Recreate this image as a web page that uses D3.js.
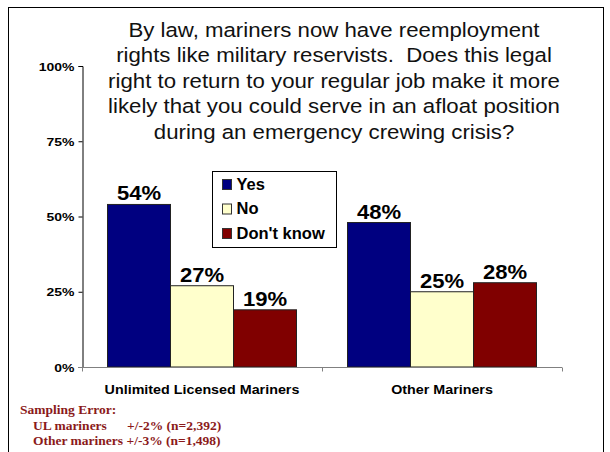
<!DOCTYPE html>
<html>
<head>
<meta charset="utf-8">
<script src="https://cdn.jsdelivr.net/npm/d3@7"></script>
<style>
  body { margin: 0; background: #fff; }
  svg { display: block; }
</style>
</head>
<body>
<div id="chart"></div>
<script>
// chart data
const groups = ["Unlimited Licensed Mariners", "Other Mariners"];
const answers = ["Yes", "No", "Don't know"];
const yesValues = [54, 48];
const noValues = [27, 25];
const dontKnowValues = [19, 28];
const yTicks = [0, 25, 50, 75, 100];
const titleLines = [
  "By law, mariners now have reemployment",
  "rights like military reservists.  Does this legal",
  "right to return to your regular job make it more",
  "likely that you could serve in an afloat position",
  "during an emergency crewing crisis?"
];
const samplingTitle = "Sampling Error:";
const samplingRows = [
  ["UL mariners", "+/-2% (n=2,392)"],
  ["Other mariners +/-3% (n=1,498)", ""]
];

const series = [yesValues, noValues, dontKnowValues];
const colors = ["#000080", "#FFFFCC", "#800000"];
const sans = "Arial, 'Liberation Sans', sans-serif";

const width = 610, height = 452;
const svg = d3.select("#chart").append("svg")
  .attr("width", width)
  .attr("height", height);

// text that is a bit wider than the font gives (the reference is stretched sideways)
function wideText(parent, x, y, sx, txt) {
  return parent.append("text")
    .attr("transform", `translate(${x},${y}) scale(${sx},1)`)
    .style("white-space", "pre")
    .text(txt);
}

// outer frame
svg.append("rect")
  .attr("x", 8.5).attr("y", 7.5)
  .attr("width", 595).attr("height", 460)
  .attr("fill", "none").attr("stroke", "#000").attr("stroke-width", 1);

const x0 = d3.scaleBand().domain(groups).range([82, 562]).padding(0);
const x1 = d3.scaleBand().domain(answers).range([25.5, x0.bandwidth() - 25.5]).padding(0);
const y = d3.scaleLinear().domain([0, 100]).range([367, 66]);

// title
const title = svg.append("g")
  .attr("text-anchor", "middle")
  .style("font-family", sans)
  .style("font-size", "19.5px")
  .attr("fill", "#111");
titleLines.forEach((t, i) => wideText(title, 334, 37 + i * 25.4, 1.14, t));

// y axis
const yAxis = svg.append("g")
  .attr("transform", "translate(82.5,0)")
  .call(d3.axisLeft(y).tickValues(yTicks).tickSize(4).tickFormat(d => d + "%"));
yAxis.select(".domain").attr("stroke", "#000");
yAxis.selectAll(".tick line").attr("stroke", "#000");
yAxis.selectAll(".tick text")
  .attr("x", null).attr("dy", null)
  .attr("transform", "translate(-8,4) scale(1.27,1)")
  .style("font-family", sans)
  .style("font-size", "11px")
  .style("font-weight", "bold")
  .attr("fill", "#000");

// bars
const groupG = svg.selectAll(".grp")
  .data(groups)
  .enter().append("g")
  .attr("class", "grp")
  .attr("transform", d => `translate(${x0(d)},0)`);

groupG.selectAll("rect")
  .data((g, gi) => answers.map((a, ai) => ({ a, v: series[ai][gi], c: colors[ai] })))
  .enter().append("rect")
  .attr("x", d => x1(d.a))
  .attr("y", d => y(d.v))
  .attr("width", x1.bandwidth())
  .attr("height", d => y(0) - y(d.v))
  .attr("fill", d => d.c)
  .attr("stroke", "#222")
  .attr("stroke-width", 1);

groupG.each(function(g, gi) {
  const grp = d3.select(this).append("g")
    .attr("text-anchor", "middle")
    .style("font-family", sans)
    .style("font-size", "21px")
    .style("font-weight", "bold")
    .attr("fill", "#000");
  answers.forEach((a, ai) => {
    const v = series[ai][gi];
    wideText(grp, x1(a) + x1.bandwidth() / 2, y(v) - 4, 1.05, v + "%");
  });
});

// x axis
const xAxis = svg.append("g")
  .attr("transform", `translate(0,${y(0) + 0.5})`);
xAxis.append("line")
  .attr("x1", 78).attr("x2", 562)
  .attr("stroke", "#808080");
xAxis.selectAll(".xt")
  .data(groups.map(g => x0(g)).concat([x0.range()[1]]))
  .enter().append("line")
  .attr("x1", d => d + 0.5).attr("x2", d => d + 0.5)
  .attr("y1", 0).attr("y2", 4)
  .attr("stroke", "#808080");
const cats = xAxis.append("g")
  .attr("text-anchor", "middle")
  .style("font-family", sans)
  .style("font-size", "13.5px")
  .style("font-weight", "bold")
  .attr("fill", "#000");
groups.forEach(g => wideText(cats, x0(g) + x0.bandwidth() / 2, 26, 1.06, g));

// legend
const legend = svg.append("g").attr("transform", "translate(212.5,171.5)");
legend.append("rect")
  .attr("width", 124).attr("height", 76)
  .attr("fill", "#fff").attr("stroke", "#000");
answers.forEach((a, i) => {
  const row = legend.append("g").attr("transform", `translate(10,${8 + i * 24.5})`);
  row.append("rect")
    .attr("width", 9).attr("height", 10)
    .attr("fill", colors[i]).attr("stroke", "#333");
  row.append("text")
    .attr("x", 14).attr("y", 10)
    .style("font-family", sans)
    .style("font-size", "16.5px")
    .style("font-weight", "bold")
    .attr("fill", "#000")
    .text(a);
});

// sampling error note
const note = svg.append("g")
  .style("font-family", "'Times New Roman', 'Liberation Serif', serif")
  .style("font-size", "13.5px")
  .style("font-weight", "bold")
  .attr("fill", "#8B1A1A");
note.append("text").attr("x", 20).attr("y", 414).text(samplingTitle);
samplingRows.forEach((r, i) => {
  note.append("text").attr("x", 33).attr("y", 430 + i * 15).text(r[0]);
  if (r[1]) note.append("text").attr("x", 127).attr("y", 430 + i * 15).text(r[1]);
});
</script>
</body>
</html>
